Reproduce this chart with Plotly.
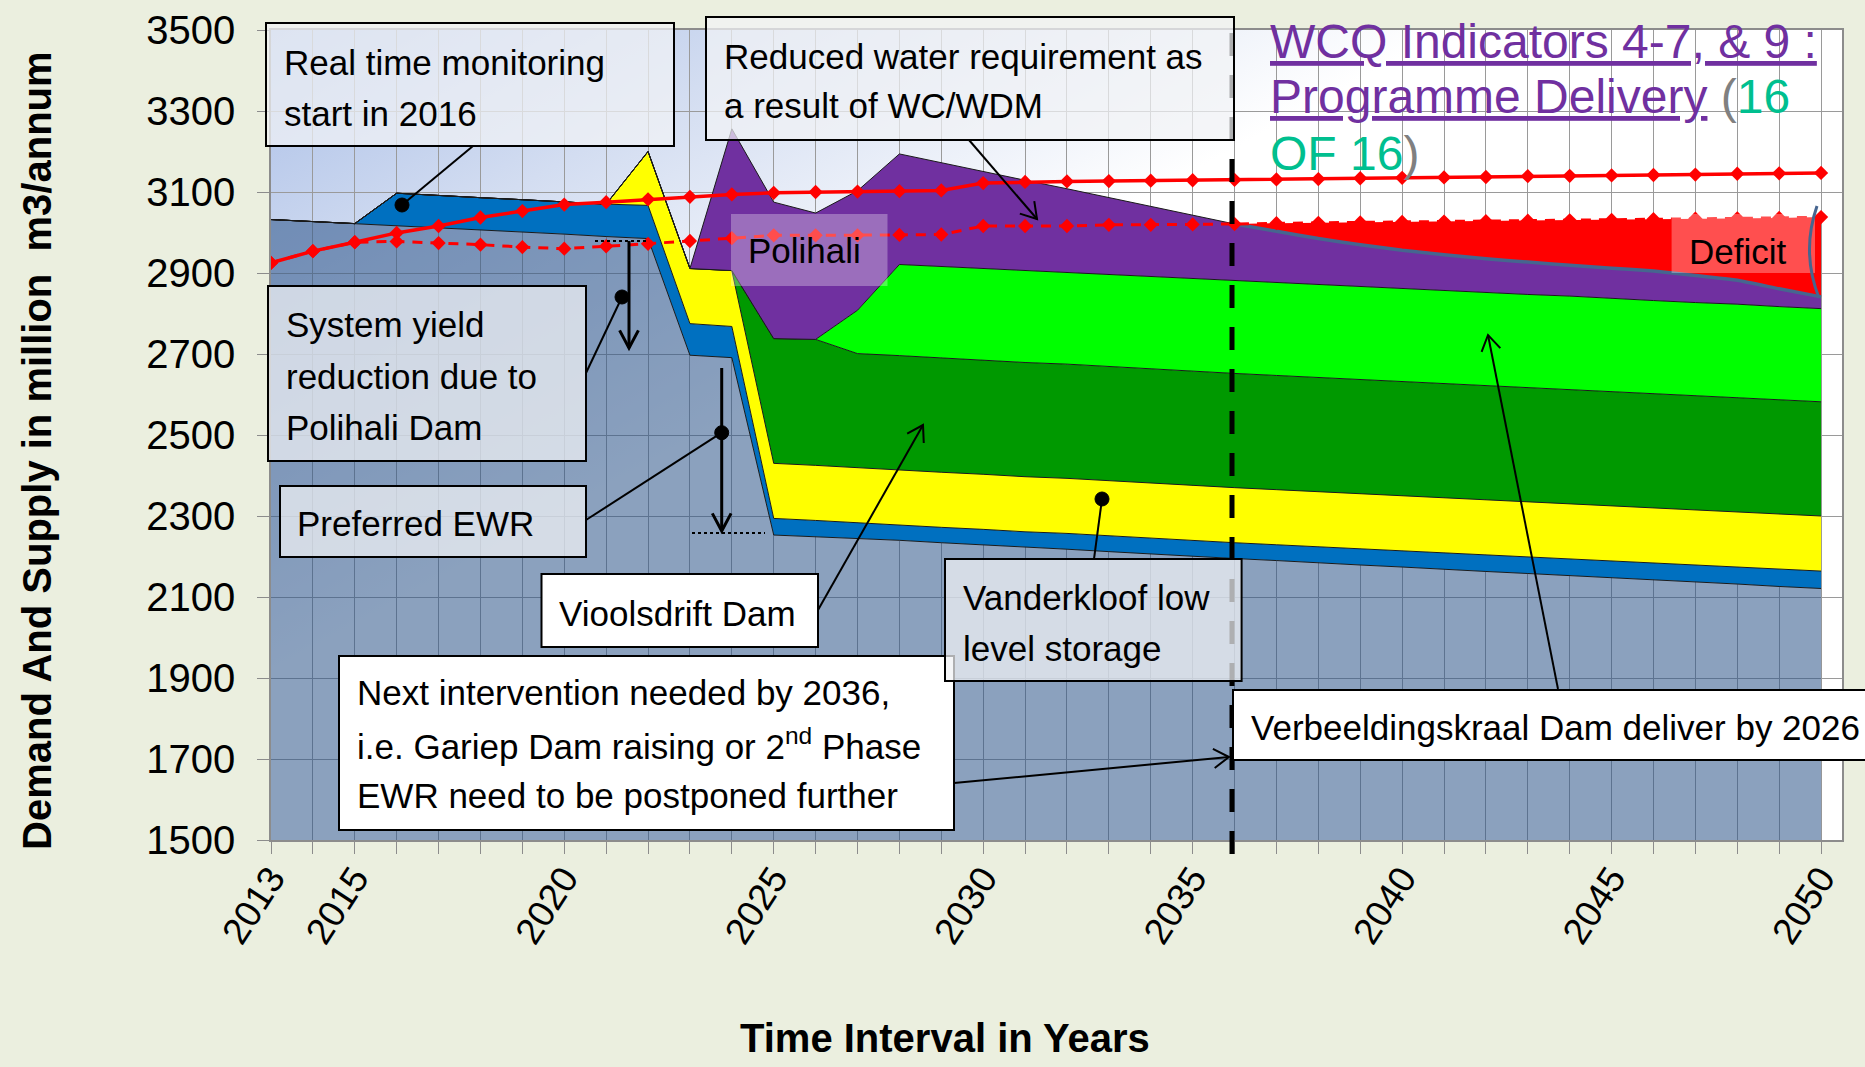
import base64
import numpy as np
import plotly.graph_objects as go

# ---------------- data (million m3/annum) ----------------
years = list(range(2013, 2051))

# stacked supply layers (thickness of each layer)
system_yield = [3032, 3027, 3022, 3017, 3011, 3006, 3001, 2996, 2990, 2985,
                2697, 2691, 2253, 2249, 2244, 2240, 2234, 2229, 2223, 2218,
                2212, 2206, 2201, 2195, 2190, 2184, 2179, 2174, 2168, 2163,
                2158, 2153, 2147, 2142, 2137, 2132, 2126, 2121]
real_time_monitoring = [0, 0, 0, 80, 80, 80, 80, 80, 80, 82, 78, 77,
                        41, 40, 39, 38, 38, 38, 38, 39, 39, 39, 39, 39, 39,
                        40, 40, 40, 41, 41, 41, 42, 42, 42, 42, 43, 43, 43]
vanderkloof_low_level = [0] * 9 + [133, 136, 138] + [136] * 26
vioolsdrift_dam = [0] * 12 + [308, 311] + [282] * 24
verbeeldingskraal_dam = [0] * 14 + [107, 225, 226, 226, 227, 227, 228, 228, 229] + [229] * 7 + [230] * 8
polihali_dam = [0] * 11 + [350, 337, 312, 295, 273, 256, 240, 223, 206, 189, 174,
                           156, 140, 127, 114, 104, 95, 89, 84, 80, 76, 75, 73,
                           67, 59, 44, 29]
deficit = [0] * 24 + [20, 39, 55, 70, 82, 93, 102, 111, 119, 128, 140, 153, 175, 197]

# demand curves
demand_without_wcwdm = [2925, 2954, 2976, 2999, 3016, 3037, 3053, 3069, 3075, 3082,
                        3088, 3094, 3098, 3100, 3101, 3102, 3104, 3122, 3125, 3126,
                        3127, 3128, 3129, 3130, 3131, 3132, 3134, 3135, 3136, 3137,
                        3139, 3140, 3141, 3142, 3143, 3145, 3146, 3147]
demand_with_wcwdm = [2925, 2954, 2976, 2978, 2974, 2970, 2964, 2960, 2966, 2972,
                     2979, 2986, 2993, 2993, 2993, 2994, 2995, 3016, 3016, 3016,
                     3019, 3019, 3020, 3021, 3023, 3024, 3025, 3026, 3027, 3028,
                     3029, 3030, 3031, 3033, 3034, 3035, 3036, 3038]

x_tick_years = [2013, 2015, 2020, 2025, 2030, 2035, 2040, 2045, 2050]
y_tick_values = list(range(1500, 3501, 200))

# ---------------- layout constants ----------------
W, H = 1865, 1067
ML, MR, MT, MB = 271, 23, 30, 227
PW, PH = W - ML - MR, H - MT - MB
FONT = "Liberation Sans, Arial, sans-serif"
GRID = "#9a9a9a"
AX = "#8c8c8c"


def P(X, Y):
    """figure pixel -> paper coords"""
    return (X - ML) / PW, (H - MB - Y) / PH


fig = go.Figure()

layers = [
    ("System yield", system_yield, "rgba(44,84,137,0.55)"),
    ("Real time monitoring", real_time_monitoring, "#0070C0"),
    ("Vanderkloof low level storage", vanderkloof_low_level, "#FFFF00"),
    ("Vioolsdrift Dam", vioolsdrift_dam, "#009900"),
    ("Verbeeldingskraal Dam", verbeeldingskraal_dam, "#00FF00"),
    ("Polihali", polihali_dam, "#7030A0"),
]
for name, vals, col in layers:
    fig.add_trace(go.Scatter(x=years, y=vals, name=name, stackgroup="supply",
                             mode="lines", line=dict(color="#1a1a1a", width=1),
                             fillcolor=col, hoverinfo="skip"))
fig.add_trace(go.Scatter(x=years, y=deficit, name="Deficit", stackgroup="supply",
                         mode="lines", line=dict(color="#FF0000", width=0),
                         fillcolor="#FF0000", hoverinfo="skip"))

supply_top = np.sum(np.array([v for _, v, _ in layers]), axis=0)
sel = [i for i, y in enumerate(years) if y >= 2036]
fig.add_trace(go.Scatter(x=[years[i] for i in sel], y=supply_top[sel], mode="lines",
                         line=dict(color="#46658f", width=3.5, shape="spline", smoothing=0.4),
                         hoverinfo="skip"))

fig.add_trace(go.Scatter(x=years, y=demand_with_wcwdm, mode="lines+markers",
                         name="Demand with WC/WDM",
                         line=dict(color="#FF0000", width=3, dash="10px,8px"),
                         marker=dict(symbol="diamond", size=11, color="#FF0000")))
fig.add_trace(go.Scatter(x=years, y=demand_without_wcwdm, mode="lines+markers",
                         name="Demand",
                         line=dict(color="#FF0000", width=3.5),
                         marker=dict(symbol="diamond", size=11, color="#FF0000")))

# ---------------- shapes ----------------
shapes = []


def seg(x0, y0, x1, y1, width=2, dash="solid", color="black"):
    a0, b0 = P(x0, y0)
    a1, b1 = P(x1, y1)
    shapes.append(dict(type="line", xref="paper", yref="paper", x0=a0, y0=b0, x1=a1, y1=b1,
                       line=dict(color=color, width=width, dash=dash), layer="above"))


def rect(x0, y0, x1, y1, fill, border=True):
    a0, b0 = P(x0, y1)
    a1, b1 = P(x1, y0)
    shapes.append(dict(type="rect", xref="paper", yref="paper", x0=a0, y0=b0, x1=a1, y1=b1,
                       fillcolor=fill, layer="above",
                       line=dict(color="black", width=2) if border else dict(width=0)))


def dot(x, y, r=7):
    a0, b0 = P(x - r, y + r)
    a1, b1 = P(x + r, y - r)
    shapes.append(dict(type="circle", xref="paper", yref="paper", x0=a0, y0=b0, x1=a1, y1=b1,
                       fillcolor="black", line=dict(color="black", width=1), layer="above"))


def arrow(x0, y0, x1, y1, width=2, head=18, ang=32):
    seg(x0, y0, x1, y1, width)
    d = np.array([x1 - x0, y1 - y0], float)
    d /= np.linalg.norm(d)
    pts = []
    for s in (1, -1):
        a = np.radians(ang * s)
        rot = np.array([[np.cos(a), -np.sin(a)], [np.sin(a), np.cos(a)]])
        v = rot @ (-d)
        pts.append(P(x1 + head * v[0], y1 + head * v[1]))
    tip = P(x1, y1)
    path = "M{:.5f},{:.5f} L{:.5f},{:.5f} L{:.5f},{:.5f}".format(*pts[0], *tip, *pts[1])
    shapes.append(dict(type="path", xref="paper", yref="paper", path=path,
                       line=dict(color="black", width=width), layer="above"))


SEMI = "rgba(241,242,245,0.72)"

# vertical dashed "next intervention" line
seg(1232, 33, 1232, 858, width=5, dash="23px,19px")

# boxes
rect(266, 23, 674, 146, SEMI)
rect(706, 17, 1234, 140, SEMI)
rect(268, 286, 586, 461, SEMI)
rect(280, 486, 586, 557, SEMI)
rect(541.5, 574, 818, 647, "white")
rect(339, 656, 954, 830, "white")
rect(945, 559, 1241.6, 681, SEMI)
rect(1233, 690, 1875, 760, "white")
rect(731, 214, 887.5, 286, "rgba(255,255,255,0.3)", border=False)
rect(1671.6, 214, 1815, 273, "rgba(255,255,255,0.31)", border=False)

# leaders
seg(402, 205, 473, 146)
dot(402, 205)
seg(622, 297, 586, 373)
dot(622, 297)
seg(595, 241, 648, 241, width=2, dash="dot")
arrow(629, 241, 629, 348, width=3, head=20, ang=28)
seg(721.7, 432.7, 586, 520)
dot(721.7, 432.7)
seg(692, 533, 765, 533, width=2, dash="dot")
arrow(721.7, 368, 721.7, 531, width=3, head=20, ang=28)
arrow(818, 610, 923, 425)
arrow(954, 783, 1229, 757)
seg(1094, 559, 1102, 499)
dot(1102, 499)
arrow(1558, 689, 1488, 335)
arrow(969, 140, 1037, 219)

# bracket at the deficit end
p0, p1, p2 = P(1817, 206), P(1801, 252), P(1819, 298)
shapes.append(dict(type="path", xref="paper", yref="paper",
                   path="M{:.5f},{:.5f} Q{:.5f},{:.5f} {:.5f},{:.5f}".format(*p0, *p1, *p2),
                   line=dict(color="#46658f", width=3), layer="above"))

# ---------------- text ----------------
annotations = []


def txt(X, Y, text, size=35, color="black", bold=False, angle=0, xanchor="left"):
    a, b = P(X, Y)
    annotations.append(dict(xref="paper", yref="paper", x=a, y=b, text=text,
                            showarrow=False, xanchor=xanchor, yanchor="middle",
                            textangle=angle, borderpad=0, borderwidth=0,
                            font=dict(family=FONT, size=size, color=color,
                                      weight="bold" if bold else "normal")))


txt(284, 62, "Real time monitoring")
txt(284, 113, "start in 2016")
txt(724, 56, "Reduced water requirement as")
txt(724, 106, "a result of WC/WDM")
txt(286, 325, "System yield")
txt(286, 376, "reduction due to")
txt(286, 427, "Polihali Dam")
txt(297, 523, "Preferred EWR")
txt(559, 613, "Vioolsdrift Dam")
txt(357, 692, "Next intervention needed by 2036,")
txt(357, 744, "i.e. Gariep Dam raising or 2<sup>nd</sup> Phase")
txt(357, 795, "EWR need to be postponed further")
txt(963, 597, "Vanderkloof low")
txt(963, 648, "level storage")
txt(1251, 727, "Verbeeldingskraal Dam deliver by 2026")
txt(748, 251, "Polihali")
txt(1689, 252, "Deficit")

PURPLE = "#7030A0"
TEAL = "#00BF8F"
GREY = "#808080"
txt(1270, 41, "<u>WCQ Indicators 4-7, &amp; 9 :</u>", size=48, color=PURPLE)
txt(1270, 97, "<u>Programme Delivery</u> <span style='color:%s'>(</span>"
              "<span style='color:%s'>16</span>" % (GREY, TEAL), size=48, color=PURPLE)
txt(1270, 153, "<span style='color:%s'>OF 16</span><span style='color:%s'>)</span>" % (TEAL, GREY),
    size=48, color=PURPLE)

txt(37, 451, "Demand And Supply in million\u00a0 m3/annum", size=40, bold=True, angle=-90,
    xanchor="center")
txt(945, 1038, "Time Interval in Years", size=40, bold=True, xanchor="center")

# ---------------- background gradient ----------------
svg = ("<svg xmlns='http://www.w3.org/2000/svg' width='{w}' height='{h}' viewBox='0 0 {w} {h}' "
       "preserveAspectRatio='none'><defs><linearGradient id='g' gradientUnits='userSpaceOnUse' "
       "x1='0' y1='0' x2='274' y2='498'><stop offset='0' stop-color='#a9bee7'/>"
       "<stop offset='0.45' stop-color='#d3ddf1'/><stop offset='1' stop-color='#ffffff'/>"
       "</linearGradient></defs><rect width='{w}' height='{h}' fill='url(#g)'/></svg>").format(w=PW, h=PH)
bg_src = "data:image/svg+xml;base64," + base64.b64encode(svg.encode()).decode()

fig.update_layout(
    width=W, height=H,
    margin=dict(l=ML, r=MR, t=MT, b=MB),
    paper_bgcolor="#ebefdf",
    plot_bgcolor="white",
    showlegend=False,
    shapes=shapes,
    annotations=annotations,
    images=[dict(source=bg_src, xref="paper", yref="paper", x=0, y=1, sizex=1, sizey=1,
                 sizing="stretch", xanchor="left", yanchor="top", layer="below")],
    xaxis=dict(range=[2013, 2050.5], tickvals=x_tick_years, automargin=False,
               ticktext=[str(v) for v in x_tick_years], tickangle=-57,
               ticks="outside", ticklen=12, tickcolor=AX, tickwidth=1,
               ticklabelstandoff=-12,
               showgrid=True, gridcolor=GRID, gridwidth=1,
               minor=dict(tick0=2013, dtick=1, ticks="outside", ticklen=12, tickcolor=AX,
                          showgrid=True, gridcolor=GRID, gridwidth=1),
               showline=True, linecolor=AX, linewidth=1.5, mirror=True, zeroline=False,
               tickfont=dict(family=FONT, size=37, color="black")),
    yaxis=dict(range=[1500, 3500], tickvals=y_tick_values, automargin=False,
               ticks="outside", ticklen=12, tickcolor=AX, tickwidth=1,
               ticklabelstandoff=14,
               showgrid=True, gridcolor=GRID, gridwidth=1,
               showline=True, linecolor=AX, linewidth=1.5, mirror=True, zeroline=False,
               tickfont=dict(family=FONT, size=40, color="black")),
)

fig.write_html("out.html", config={"displayModeBar": False},
               post_script="document.body.style.margin='0';document.body.style.overflow='hidden';")
